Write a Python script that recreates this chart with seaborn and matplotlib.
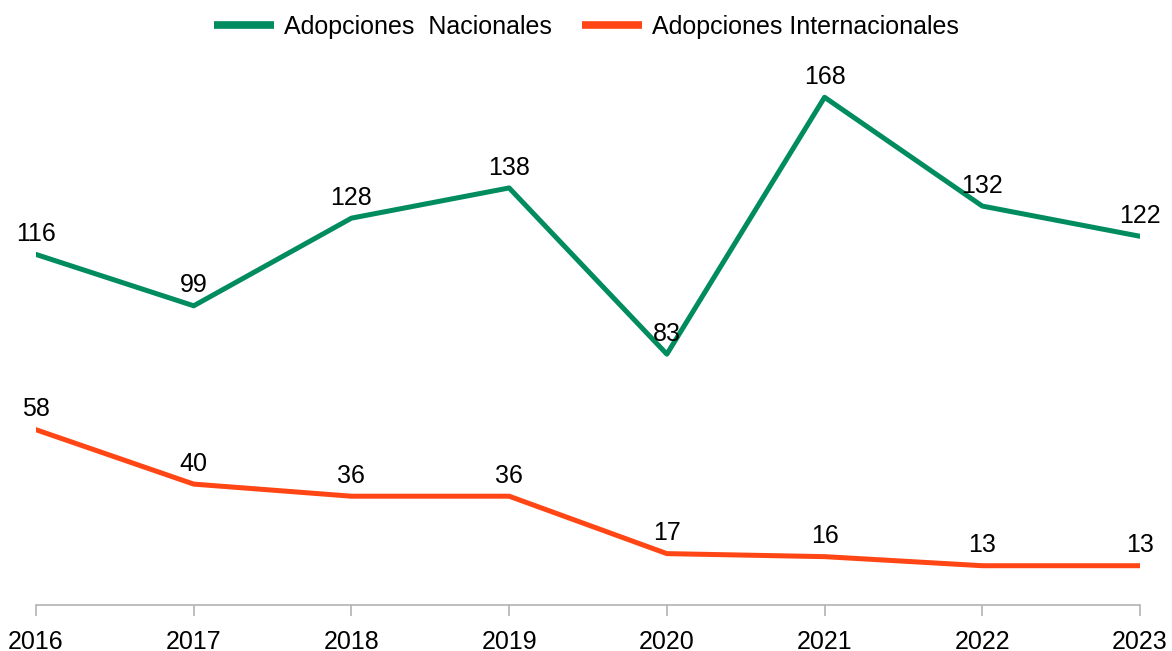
import matplotlib
matplotlib.use("Agg")
import matplotlib.pyplot as plt
import seaborn as sns
import pandas as pd

years = [2016, 2017, 2018, 2019, 2020, 2021, 2022, 2023]
nacionales = [116, 99, 128, 138, 83, 168, 132, 122]
internacionales = [58, 40, 36, 36, 17, 16, 13, 13]
series_names = ["Adopciones  Nacionales", "Adopciones Internacionales"]
colors = ["#008C5F", "#FF4614"]

sns.set_theme(style="white")
plt.rcParams["font.family"] = ["Liberation Sans", "DejaVu Sans"]

df = pd.DataFrame({
    "year": years * 2,
    "value": nacionales + internacionales,
    "serie": [series_names[0]] * len(years) + [series_names[1]] * len(years),
})

fig = plt.figure(figsize=(11.72, 6.51), dpi=100)
ax = fig.add_axes([36 / 1172, 46 / 651, (1140 - 36) / 1172, (605 - 61) / 651])

sns.lineplot(data=df, x="year", y="value", hue="serie", palette=colors,
             hue_order=series_names, linewidth=3.6, ax=ax, legend=True)

for vals in (nacionales, internacionales):
    for x, y in zip(years, vals):
        ax.annotate(str(y), (x, y), xytext=(0, 6), textcoords="offset points",
                    ha="center", va="bottom", fontsize=18, color="black")

ax.set_xlim(2016, 2023)
ax.set_ylim(0, 180)
ax.set_xticks(years)
ax.set_xticklabels([str(y) for y in years], fontsize=18, color="black")
ax.set_yticks([])
ax.set_xlabel("")
ax.set_ylabel("")
for s in ["top", "right", "left"]:
    ax.spines[s].set_visible(False)
ax.spines["bottom"].set_color("#b3b3b3")
ax.spines["bottom"].set_linewidth(1.2)
ax.tick_params(axis="x", which="both", bottom=True, length=8, width=1.2,
               color="#b3b3b3", pad=10)

handles, labels = ax.get_legend_handles_labels()
leg = ax.legend(handles, labels, loc="center", bbox_to_anchor=(0.5, 1 - 27 / 651),
                bbox_transform=fig.transFigure, ncol=2, frameon=False,
                fontsize=18, handlelength=2.4, columnspacing=1.2, handletextpad=0.4,
                labelcolor="black")
for line in leg.get_lines():
    line.set_linewidth(5.5)
    line.set_solid_capstyle("butt")

fig.savefig("out.png", dpi=100)
